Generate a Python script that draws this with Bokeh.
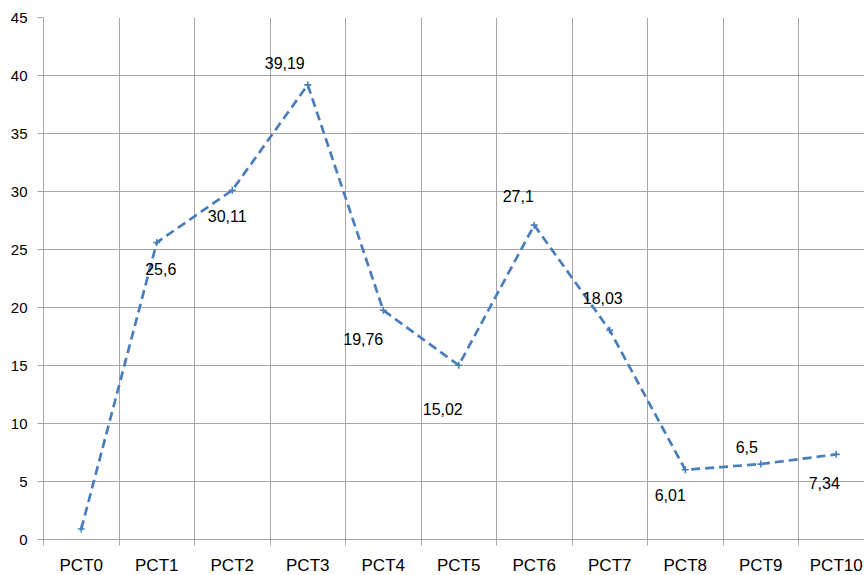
from bokeh.plotting import figure
from bokeh.models import Range1d, FixedTicker, ColumnDataSource
from bokeh.core.properties import value
from bokeh.embed import file_html
from bokeh.resources import INLINE

# Series values per category
categories = ["PCT0", "PCT1", "PCT2", "PCT3", "PCT4", "PCT5",
              "PCT6", "PCT7", "PCT8", "PCT9", "PCT10"]
values = [0.9, 25.6, 30.11, 39.19, 19.76, 15.02, 27.1, 18.03, 6.01, 6.5, 7.34]
y_ticks = [0, 5, 10, 15, 20, 25, 30, 35, 40, 45]

# Screen-pixel offsets of each value label from its point (PCT0 is unlabelled);
# positive dy moves a label down
label_dx = [0, 4, -5, -23, -20, -16, -16, -7, -15, -14, -12]
label_dy = [0, 26, 26, -22, 29, 44, -29, -32, 25, -17, 29]

BLUE = "#4a7ebb"
GRID = "#a6a6a6"
FONT = "Liberation Sans"

# categories sit in the middle of unit-wide slots
xs = [i + 0.5 for i in range(len(categories))]
slot_edges = list(range(len(categories) + 1))

p = figure(frame_width=821, frame_height=522,
           x_range=Range1d(0, 821 / 75.5), y_range=Range1d(0, 45),
           output_backend="svg", toolbar_location=None,
           min_border_left=43, min_border_right=0,
           min_border_top=17, min_border_bottom=36)
p.outline_line_color = None
p.background_fill_color = "white"
p.border_fill_color = "white"

# y axis
p.yaxis.ticker = FixedTicker(ticks=y_ticks)
p.yaxis.axis_line_color = GRID
p.yaxis.major_tick_line_color = GRID
p.yaxis.major_tick_out = 6
p.yaxis.major_tick_in = 0
p.yaxis.minor_tick_line_color = None
p.yaxis.major_label_standoff = 10
p.yaxis.major_label_text_font = FONT
p.yaxis.major_label_text_font_size = "15px"
p.yaxis.major_label_text_color = "black"

# x axis: labels at slot centres, tick marks at slot edges
p.xaxis.ticker = FixedTicker(ticks=xs, minor_ticks=slot_edges)
p.xaxis.major_label_overrides = {x: c for x, c in zip(xs, categories)}
p.xaxis.axis_line_color = GRID
p.xaxis.major_tick_line_color = None
p.xaxis.major_tick_out = 0
p.xaxis.major_tick_in = 0
p.xaxis.minor_tick_line_color = GRID
p.xaxis.minor_tick_out = 6
p.xaxis.minor_tick_in = 0
p.xaxis.major_label_standoff = 10
p.xaxis.major_label_text_font = FONT
p.xaxis.major_label_text_font_size = "17px"
p.xaxis.major_label_text_color = "black"

# grid
p.xgrid.ticker = FixedTicker(ticks=slot_edges)
p.xgrid.grid_line_color = GRID
p.ygrid.grid_line_color = GRID
p.xgrid.grid_line_width = 1
p.ygrid.grid_line_width = 1

src = ColumnDataSource(dict(x=xs, y=values))
p.line("x", "y", source=src, line_color=BLUE, line_width=2.7, line_dash="9 5")
p.scatter("x", "y", source=src, marker="cross", size=7, line_width=1.6,
          line_color=BLUE)

lab = ColumnDataSource(dict(
    x=xs[1:], y=values[1:],
    text=[str(v).replace(".", ",") for v in values[1:]],
    dx=label_dx[1:], dy=label_dy[1:],
))
p.text("x", "y", text="text", source=lab, x_offset="dx", y_offset="dy",
       text_align="center", text_baseline="middle",
       text_font=value(FONT), text_font_size="16px", text_color="black")

open("out.html", "w").write(file_html(p, INLINE))
